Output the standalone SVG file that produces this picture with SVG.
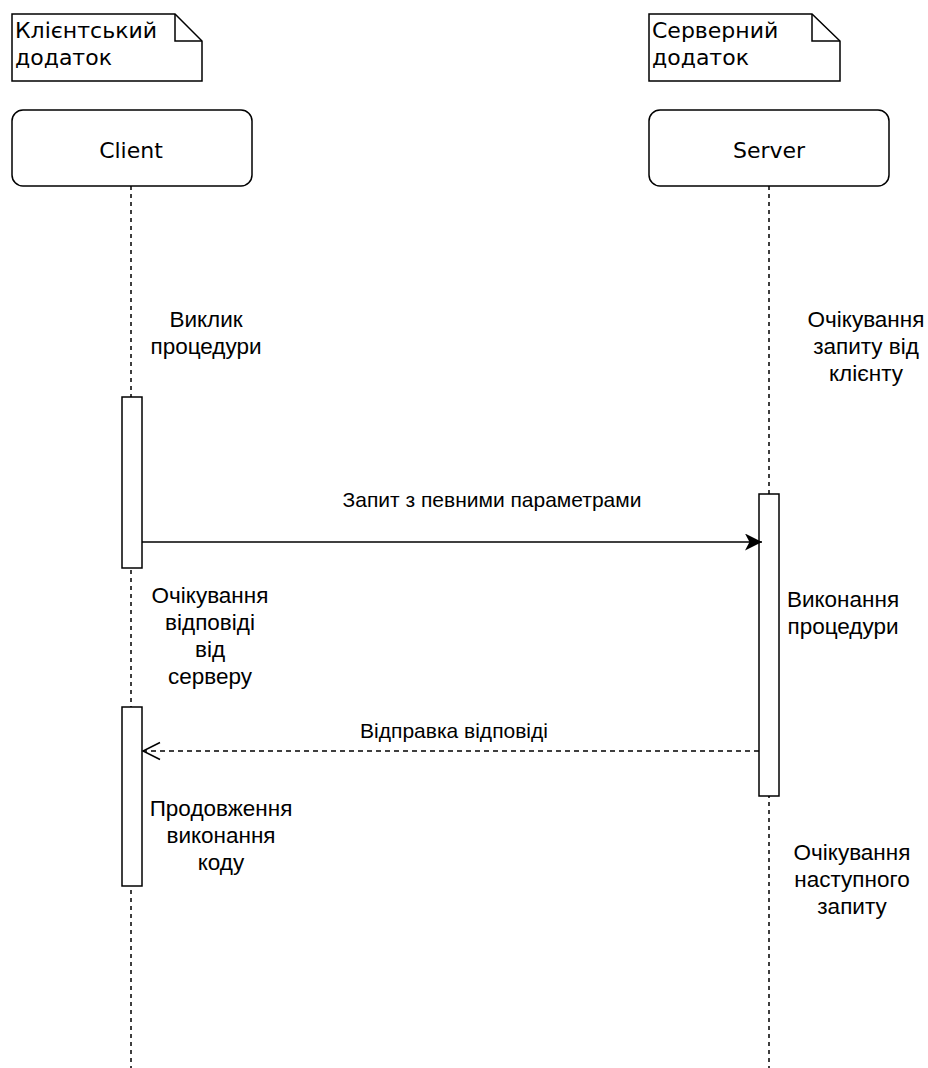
<svg xmlns="http://www.w3.org/2000/svg" width="928" height="1068" viewBox="0 0 928 1068">
<style>
.box{fill:#fff;stroke:#000;stroke-width:1.5}
.life{stroke:#000;stroke-width:1.5;stroke-dasharray:4 4;fill:none}
.t{font-family:"Liberation Sans",Arial,sans-serif;font-size:22.5px;fill:#000;text-anchor:middle}
.lbl{font-family:"Liberation Sans",Arial,sans-serif;font-size:21px;fill:#000;text-anchor:middle}
.v{font-family:"DejaVu Sans",Verdana,sans-serif;font-size:22px;fill:#000}
</style>
<defs>
<marker id="filled" markerWidth="18" markerHeight="18" refX="17" refY="8.5" orient="auto" markerUnits="userSpaceOnUse">
<path d="M0,0 L17,8.5 L0,17 L4.5,8.5 Z" fill="#000"/>
</marker>
<marker id="open" markerWidth="20" markerHeight="20" refX="18" refY="9.5" orient="auto" markerUnits="userSpaceOnUse">
<path d="M1,1 L18,9.5 L1,18" fill="none" stroke="#000" stroke-width="1.5"/>
</marker>
</defs>
<g id="lifelines">
<line class="life" x1="131" y1="186" x2="131" y2="1068"/>
<line class="life" x1="769" y1="186" x2="769" y2="1068"/>
</g>
<g id="note-client">
<path class="box" d="M12,14 H175 L202,41 V81 H12 Z"/>
<path d="M175,14 V41 H202" fill="none" stroke="#000" stroke-width="1.5"/>
<text class="v" x="15" y="38">Клієнтський</text>
<text class="v" x="15" y="65">додаток</text>
</g>
<g id="note-server">
<path class="box" d="M649,14 H812 L840,41 V81 H649 Z"/>
<path d="M812,14 V41 H840" fill="none" stroke="#000" stroke-width="1.5"/>
<text class="v" x="652" y="38">Серверний</text>
<text class="v" x="652" y="65">додаток</text>
</g>
<g id="client">
<rect class="box" x="12" y="110" width="240" height="76" rx="11"/>
<text class="v" x="131" y="158" text-anchor="middle">Client</text>
</g>
<g id="server">
<rect class="box" x="649" y="110" width="240" height="76" rx="11"/>
<text class="v" x="769" y="158" text-anchor="middle">Server</text>
</g>
<g id="act-client-1"><rect class="box" x="122" y="397" width="20" height="171"/></g>
<g id="act-client-2"><rect class="box" x="122" y="707" width="20" height="179"/></g>
<g id="act-server"><rect class="box" x="759" y="494" width="20" height="302"/></g>
<g id="connectors">
<line x1="142" y1="542" x2="762" y2="542" stroke="#000" stroke-width="1.5" marker-end="url(#filled)"/>
<text class="lbl" x="492" y="507">Запит з певними параметрами</text>
<line x1="759" y1="751" x2="143" y2="751" stroke="#000" stroke-width="1.5" stroke-dasharray="5 4" marker-end="url(#open)"/>
<text class="lbl" x="454" y="738">Відправка відповіді</text>
</g>
<g id="texts">
<text class="t" x="206" y="327">Виклик</text>
<text class="t" x="206" y="354">процедури</text>
<text class="t" x="866" y="327">Очікування</text>
<text class="t" x="866" y="354">запиту від</text>
<text class="t" x="866" y="381">клієнту</text>
<text class="t" x="210" y="603">Очікування</text>
<text class="t" x="210" y="630">відповіді</text>
<text class="t" x="210" y="657">від</text>
<text class="t" x="210" y="684">серверу</text>
<text class="t" x="843" y="607">Виконання</text>
<text class="t" x="843" y="634">процедури</text>
<text class="t" x="221" y="816">Продовження</text>
<text class="t" x="221" y="843">виконання</text>
<text class="t" x="221" y="870">коду</text>
<text class="t" x="852" y="860">Очікування</text>
<text class="t" x="852" y="887">наступного</text>
<text class="t" x="852" y="914">запиту</text>
</g>
</svg>
